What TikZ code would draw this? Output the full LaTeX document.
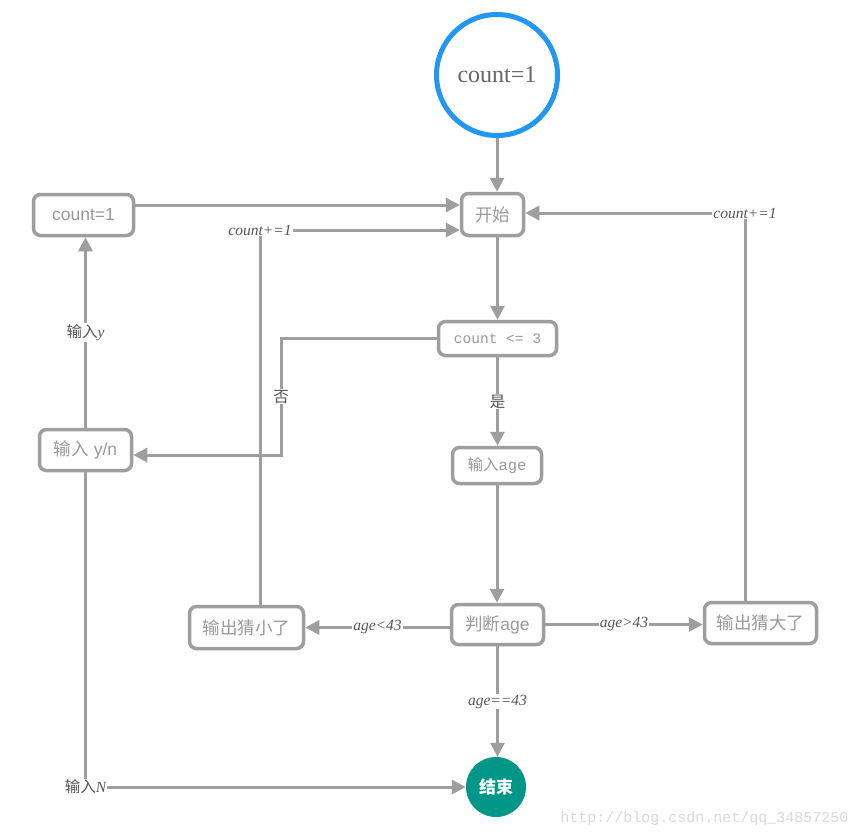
\documentclass[tikz,border=0pt]{standalone}
\usepackage{fontspec}
\setmainfont{Liberation Serif}
\setsansfont{Liberation Sans}
\setmonofont{Liberation Mono}
\newfontfamily\cjk{Noto Sans CJK SC}
\usetikzlibrary{arrows.meta}
\definecolor{linegray}{HTML}{9E9E9E}
\definecolor{textgray}{HTML}{999999}
\definecolor{lblgray}{HTML}{555555}
\definecolor{startblue}{HTML}{2196F3}
\definecolor{endteal}{HTML}{009688}
\tikzset{
  box/.style={draw=linegray,line width=3.5pt,rounded corners=7pt,fill=white,
    text=textgray,font=\sffamily\fontsize{17.5}{19}\selectfont,inner sep=0pt},
  arr/.style={draw=linegray,line width=3pt,-{Triangle[length=14pt,width=14pt]}},
  lbl/.style={fill=white,text=lblgray,inner sep=1pt,font=\itshape\fontsize{15.5}{17}\selectfont},
}
\begin{document}
\begin{tikzpicture}[x=1pt,y=-1pt]
    \useasboundingbox[fill=white] (0,0) rectangle (862,839);
    % nodes
    \node[circle,draw=startblue,line width=5pt,minimum size=121pt,inner sep=0pt,
      text=black!60,font=\fontsize{24}{26}\selectfont] (circ) at (497,75) {count=1};
    \node[box,minimum width=100pt,minimum height=41pt] (cnt) at (83.5,215) {count=1};
    \node[box,minimum width=62pt,minimum height=42pt] (start) at (492.5,214.5) {\cjk 开始};
    \node[box,minimum width=118pt,minimum height=34pt,font=\ttfamily\fontsize{14.5}{16}\selectfont] (cond) at (497.5,338.5) {count <= 3};
    \node[box,minimum width=92pt,minimum height=41pt] (yn) at (85.5,450) {{\cjk 输入} y/n};
    \node[box,minimum width=89pt,minimum height=36pt,font=\ttfamily\fontsize{15.5}{17}\selectfont] (inage) at (497,465.5) {{\cjk\fontsize{15.5}{17}\selectfont 输入}age};
    \node[box,minimum width=92pt,minimum height=40pt] (judge) at (497.5,624.5) {{\cjk 判断}age};
    \node[box,minimum width=114pt,minimum height=42pt] (small) at (246.5,627.5) {\cjk 输出猜小了};
    \node[box,minimum width=112pt,minimum height=41pt] (big) at (760.5,623) {\cjk 输出猜大了};
    \node[circle,fill=endteal,minimum size=60pt,inner sep=0pt,text=white,
      font=\cjk\bfseries\fontsize{17}{19}\selectfont] (end) at (496,787) {结束};
    \coordinate (upl) at (260,230);
    \coordinate (upr) at (745,213);
    \coordinate (no) at (281,455);
    \coordinate (ndown) at (85.5,787);
    % connectors
    \draw[arr] (circ.south) -- (circ.south |- start.north);
    \draw[arr] ([yshift=10pt]cnt.east) -- ([yshift=10pt]cnt.east -| start.west);
    \draw[arr] (small.north -| upl) -- (upl) node[lbl]{count+=1} -- (upl -| start.west);
    \draw[arr] (big.north -| upr) -- (upr) node[lbl]{count+=1} -- (upr -| start.east);
    \draw[arr] (cond.north |- start.south) -- (cond.north);
    \draw[arr] (cond.west) -| node[lbl,pos=0.75]{\cjk 否} (no) -- (no -| yn.east);
    \draw[arr] (yn.north) -- node[lbl]{{\cjk 输入}y} (yn.north |- cnt.south);
    \draw[arr] (yn.south) -- (ndown) node[lbl]{{\cjk 输入}N} -- (end.west);
    \draw[arr] (cond.south) -- node[lbl]{\cjk 是} (cond.south |- inage.north);
    \draw[arr] (inage.south) -- (inage.south |- judge.north);
    \draw[arr] (judge.west |- small.east) -- node[lbl]{age<43} (small.east);
    \draw[arr] (judge.east) -- node[lbl]{age>43} (judge.east -| big.west);
    \draw[arr] (judge.south) -- node[lbl]{age==43} (judge.south |- end.north);
    \node[text=black!15,font=\ttfamily\fontsize{15}{16}\selectfont,anchor=east] (mark) at (852,819) {http://blog.csdn.net/qq\_34857250};
\end{tikzpicture}
\end{document}
